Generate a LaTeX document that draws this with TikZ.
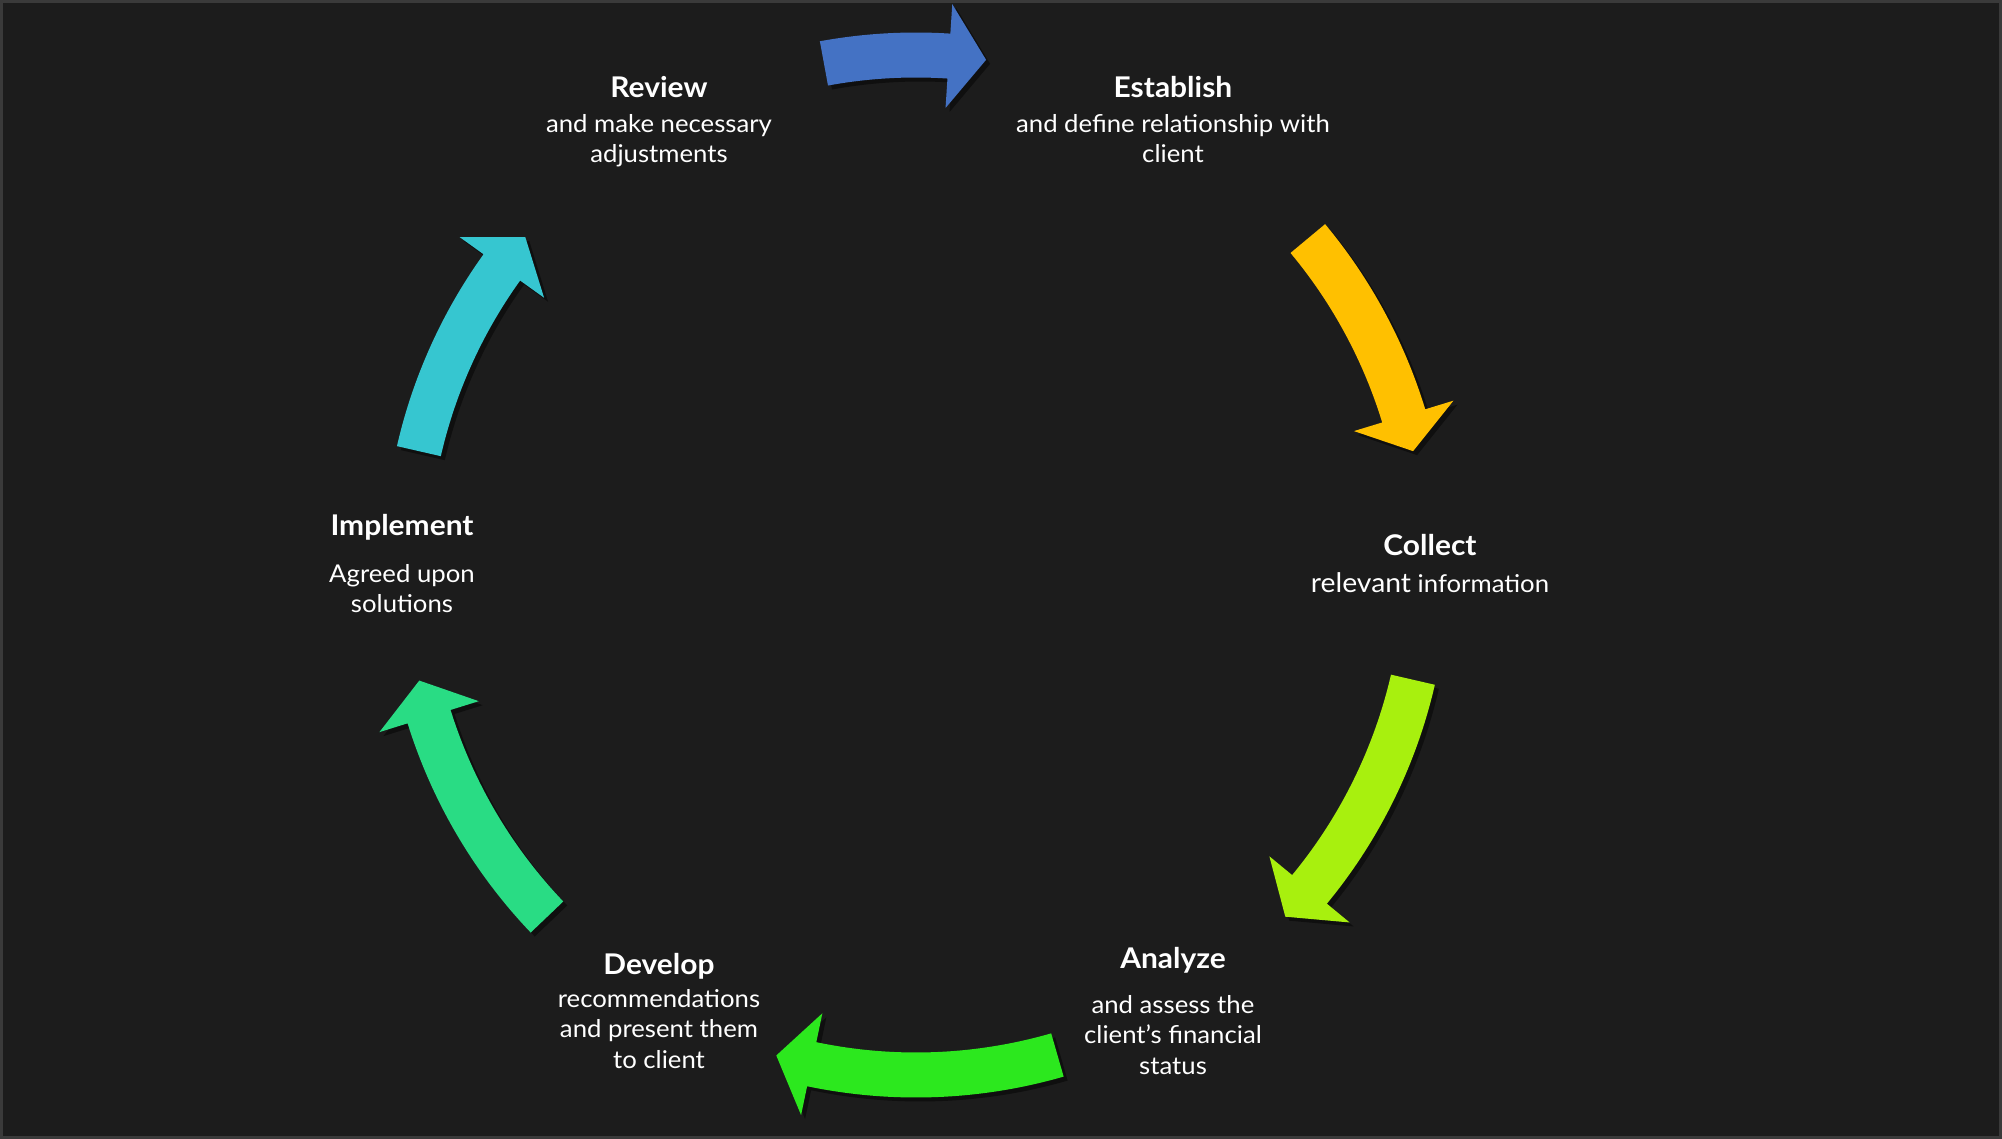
\documentclass[tikz,border=0pt]{standalone}
\usepackage{fontspec}
\setmainfont{Lato}[FakeStretch=1.05]
\usetikzlibrary{positioning, shadows}

\definecolor{bgdark}{HTML}{1C1C1C}
\definecolor{framegray}{HTML}{3A3A3A}
\definecolor{arrowblue}{HTML}{4472C4}
\definecolor{arrowgold}{HTML}{FFC000}
\definecolor{arrowlime}{HTML}{A8F00E}
\definecolor{arrowgreen}{HTML}{2CE81E}
\definecolor{arrowmint}{HTML}{29DC84}
\definecolor{arrowcyan}{HTML}{36C6D0}

% curved block arrow: #1 colour, #2 tail angle, #3 head base angle, #4 tip angle
\newcommand{\cyclearrow}[4]{%
  \fill[#1, drop shadow={shadow xshift=4pt, shadow yshift=-4pt, fill=black, opacity=0.45}]
    (#2:532.5pt) arc[start angle=#2, end angle=#3, radius=532.5pt]
    -- (#3:562pt) -- (#4:510pt) -- (#3:458pt) -- (#3:487.5pt)
    arc[start angle=#3, end angle=#2, radius=487.5pt] -- cycle;}

\begin{document}
\begin{tikzpicture}[x=1pt, y=1pt,
    stage/.style={text=white, font=\bfseries\fontsize{28.5}{30}\selectfont, inner sep=0pt, anchor=base},
    note/.style={text=white, font=\fontsize{24.5}{30.5}\selectfont, align=center, inner sep=0pt}]
  \fill[bgdark] (-916,-574) rectangle (1086,565);
  \draw[framegray, line width=3pt] (-914.5,-572.5) rectangle (1084.5,563.5);

  % arrows round the cycle
  \cyclearrow{arrowblue}{100.4}{86.3}{82.1}
  \cyclearrow{arrowgold}{39.8}{17.0}{12.9}
  \cyclearrow{arrowlime}{-13.0}{-39.5}{-43.6}
  \cyclearrow{arrowgreen}{-73.9}{-101.8}{-105.9}
  \cyclearrow{arrowmint}{-136.35}{-162.7}{-166.9}
  \cyclearrow{arrowcyan}{167.1}{144.3}{140.0}

  % stages
  \node[stage] (review) at (-257,467) {Review};
  \node[note, below=16pt of review.base] (reviewnote) {and make necessary\\adjustments};

  \node[stage] (establish) at (257,467) {Establish};
  \node[note, below=16pt of establish.base] (establishnote) {and define relationship with\\client};

  \node[stage] (collect) at (514,9) {Collect};
  \node[note, below=16pt of collect.base] (collectnote) {{\fontsize{27}{30}\selectfont relevant} information};

  \node[stage] (analyze) at (257,-403) {Analyze};
  \node[note, below=27pt of analyze.base] (analyzenote) {and assess the\\client’s financial\\status};

  \node[stage] (develop) at (-257,-409) {Develop};
  \node[note, below=15pt of develop.base] (developnote) {recommendations\\and present them\\to client};

  \node[stage] (implement) at (-514,29) {Implement};
  \node[note, below=28pt of implement.base] (implementnote) {Agreed upon\\solutions};
\end{tikzpicture}
\end{document}
